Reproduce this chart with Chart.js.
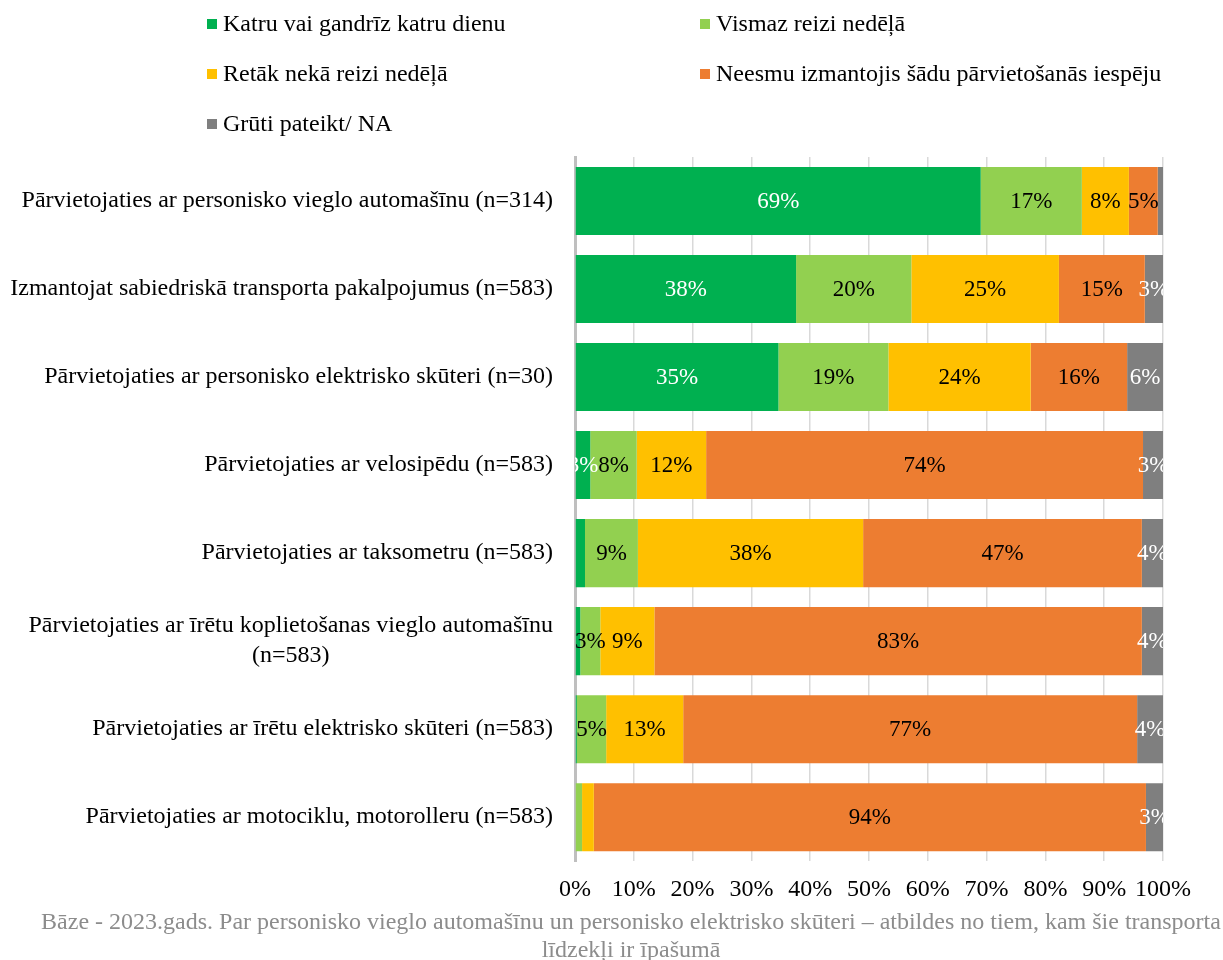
<!DOCTYPE html>
<html>
<head>
<meta charset="utf-8">
<script src="https://cdn.jsdelivr.net/npm/chart.js@4"></script>
<style>
  body { margin: 0; background: #fff; font-family: "Liberation Serif", "Times New Roman", serif; }
  #wrap { position: relative; width: 1223px; height: 960px; }
  #chart { position: absolute; left: 0; top: 0; }
  #legend { position: absolute; left: 0; top: 0; width: 1223px; }
  .item { position: absolute; font-size: 24px; color: #000; white-space: nowrap; line-height: 24px; }
  .item span.box { display: inline-block; width: 10px; height: 10px; margin-right: 6px; vertical-align: 2px; }
  #foot { position: absolute; left: 0; top: 907px; width: 1262px; text-align: center; font-size: 24px; color: #8c8c8c; line-height: 28px; }
</style>
</head>
<body>
<div id="wrap">
  <canvas id="chart" width="1223" height="960"></canvas>
  <div id="legend"></div>
  <div id="foot">Bāze - 2023.gads. Par personisko vieglo automašīnu un personisko elektrisko skūteri – atbildes no tiem, kam šie transporta<br>līdzekļi ir īpašumā</div>
</div>
<script>
const categories = [
  'Pārvietojaties ar personisko vieglo automašīnu (n=314)',
  'Izmantojat sabiedriskā transporta pakalpojumus (n=583)',
  'Pārvietojaties ar personisko elektrisko skūteri (n=30)',
  'Pārvietojaties ar velosipēdu (n=583)',
  'Pārvietojaties ar taksometru (n=583)',
  ['Pārvietojaties ar īrētu koplietošanas vieglo automašīnu', '(n=583)'],
  'Pārvietojaties ar īrētu elektrisko skūteri (n=583)',
  'Pārvietojaties ar motociklu, motorolleru (n=583)'
];
const seriesNames = [
  'Katru vai gandrīz katru dienu',
  'Vismaz reizi nedēļā',
  'Retāk nekā reizi nedēļā',
  'Neesmu izmantojis šādu pārvietošanās iespēju',
  'Grūti pateikt/ NA'
];
const colors = ['#00b050', '#92d050', '#ffc000', '#ed7d31', '#7f7f7f'];
const labelColors = ['#ffffff', '#000000', '#000000', '#000000', '#ffffff'];

const daily  = [69.0, 37.6, 34.6, 2.6, 1.7, 0.9, 0.3, 0];
const weekly = [17.2, 19.6, 18.7, 7.9, 9.0, 3.4, 5.0, 1.2];
const rarely = [8.0, 25.1, 24.2, 11.8, 38.3, 9.2, 13.1, 2.0];
const never  = [4.9, 14.6, 16.4, 74.3, 47.4, 82.9, 77.2, 93.9];
const na     = [0.9, 3.1, 6.1, 3.4, 3.6, 3.6, 4.4, 2.9];
const xTicks = [0, 10, 20, 30, 40, 50, 60, 70, 80, 90, 100];

const values = [daily, weekly, rarely, never, na];
const FONT = '"Liberation Serif", "Times New Roman", serif';

// legend, two columns
const legendPos = [[207, 11], [700, 11], [207, 61], [700, 61], [207, 111]];
const legend = document.getElementById('legend');
seriesNames.forEach((name, i) => {
  const d = document.createElement('div');
  d.className = 'item';
  d.style.left = legendPos[i][0] + 'px';
  d.style.top = legendPos[i][1] + 'px';
  d.innerHTML = '<span class="box" style="background:' + colors[i] + '"></span>' + name;
  legend.appendChild(d);
});

// value labels inside the bars
const barLabels = {
  id: 'barLabels',
  afterDatasetsDraw(chart) {
    const ctx = chart.ctx;
    const a = chart.chartArea;
    ctx.save();
    ctx.beginPath();
    ctx.rect(a.left, a.top, a.right - a.left, a.bottom - a.top);
    ctx.clip();
    ctx.font = '23px ' + FONT;
    ctx.textAlign = 'center';
    ctx.textBaseline = 'middle';
    chart.data.datasets.forEach((ds, di) => {
      chart.getDatasetMeta(di).data.forEach((el, i) => {
        const v = ds.data[i];
        if (v < 2.5) return;
        ctx.fillStyle = labelColors[di];
        ctx.fillText(Math.round(v) + '%', (el.x + el.base) / 2, el.y + 1);
      });
    });
    ctx.restore();
  }
};

// category labels, right aligned, extra lines centred under the first
const catLabels = {
  id: 'catLabels',
  afterDraw(chart) {
    const ctx = chart.ctx;
    const y = chart.scales.y;
    const right = chart.chartArea.left - 22;
    ctx.save();
    ctx.font = '24px ' + FONT;
    ctx.fillStyle = '#000';
    ctx.textAlign = 'center';
    ctx.textBaseline = 'middle';
    categories.forEach((c, i) => {
      const lines = Array.isArray(c) ? c : [c];
      const w = Math.max(...lines.map(l => ctx.measureText(l).width));
      const cy = y.getPixelForTick(i);
      const lh = 30;
      lines.forEach((l, k) => {
        ctx.fillText(l, right - w / 2, cy + (k - (lines.length - 1) / 2) * lh);
      });
    });
    ctx.restore();
  }
};

new Chart(document.getElementById('chart'), {
  type: 'bar',
  data: {
    labels: categories,
    datasets: seriesNames.map((name, i) => ({
      label: name,
      data: values[i],
      backgroundColor: colors[i],
      borderWidth: 0,
      barPercentage: 0.773,
      categoryPercentage: 1
    }))
  },
  options: {
    indexAxis: 'y',
    responsive: false,
    animation: false,
    layout: { padding: { top: 157, bottom: 42, right: 60, left: 0 } },
    plugins: {
      legend: { display: false },
      tooltip: { enabled: false }
    },
    scales: {
      x: {
        stacked: true,
        min: 0,
        max: 100,
        afterBuildTicks(scale) { scale.ticks = xTicks.map(v => ({ value: v })); },
        grid: { color: '#d9d9d9', lineWidth: 1.5, drawTicks: false },
        border: { display: false },
        ticks: {
          color: '#000',
          font: { family: FONT, size: 24 },
          padding: 14,
          maxRotation: 0,
          autoSkip: false,
          callback: v => v + '%'
        }
      },
      y: {
        stacked: true,
        grid: { display: false },
        border: { color: '#bfbfbf', width: 3 },
        ticks: { display: false },
        afterFit(scale) { scale.width = 575; }
      }
    }
  },
  plugins: [barLabels, catLabels]
});
</script>
</body>
</html>
